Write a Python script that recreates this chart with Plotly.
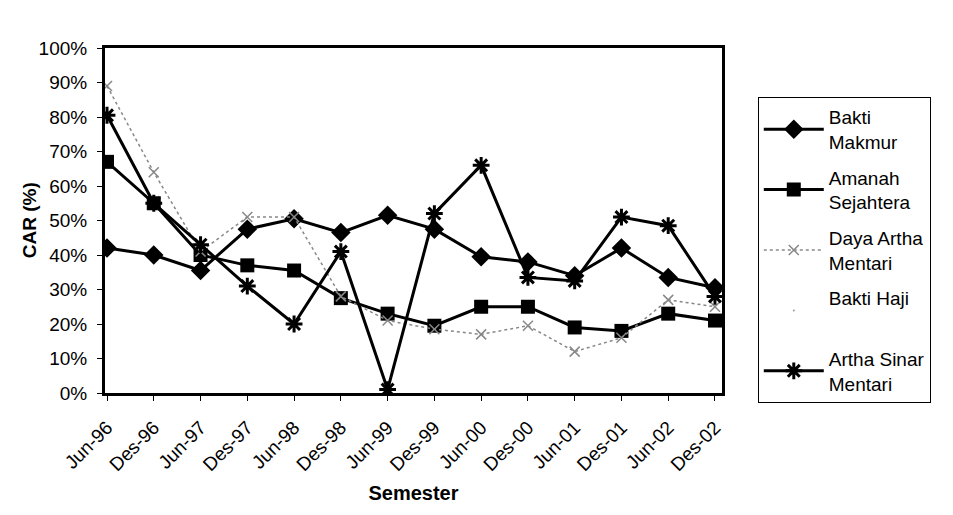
import plotly.graph_objects as go

semester = ["Jun-96", "Des-96", "Jun-97", "Des-97", "Jun-98", "Des-98", "Jun-99",
            "Des-99", "Jun-00", "Des-00", "Jun-01", "Des-01", "Jun-02", "Des-02"]

bakti_makmur = [42, 40, 35.5, 47.5, 50.5, 46.5, 51.5, 47.5, 39.5, 38, 34, 42, 33.5, 30.5]
amanah_sejahtera = [67, 55, 40, 37, 35.5, 27.5, 23, 19.5, 25, 25, 19, 18, 23, 21]
daya_artha_mentari = [89, 64, 41, 51, 51, 28, 21, 18.5, 17, 19.5, 12, 16, 27, 25]
bakti_haji = [None] * 14
artha_sinar_mentari = [80.5, 55, 43, 31, 20, 41, 1, 52, 66, 33.5, 32.5, 51, 48.5, 28]

y_ticks = [0, 10, 20, 30, 40, 50, 60, 70, 80, 90, 100]
y_labels = [f"{v}%" for v in y_ticks]

fig = go.Figure()
fig.add_trace(go.Scatter(x=semester, y=bakti_makmur, name="Bakti<br>Makmur", mode="lines+markers",
                         legendgroup="g1",
                         line=dict(color="black", width=3),
                         marker=dict(symbol="diamond", size=15, color="black")))
fig.add_trace(go.Scatter(x=semester, y=amanah_sejahtera, name="Amanah<br>Sejahtera", mode="lines+markers",
                         legendgroup="g2",
                         line=dict(color="black", width=3),
                         marker=dict(symbol="square", size=14, color="black")))
fig.add_trace(go.Scatter(x=semester, y=daya_artha_mentari, name="Daya Artha<br>Mentari", mode="lines+markers",
                         legendgroup="g3",
                         line=dict(color="#888888", width=1.5, dash="dot"),
                         marker=dict(symbol="x-thin-open", size=10, line=dict(color="#555555", width=1.5))))
fig.add_trace(go.Scatter(x=semester, y=bakti_haji, name="Bakti Haji<br> ", mode="lines+markers",
                         legendgroup="g4",
                         line=dict(color="rgba(0,0,0,0)", width=1),
                         marker=dict(symbol="circle", size=2, color="#999999")))
fig.add_trace(go.Scatter(x=semester, y=artha_sinar_mentari, name="Artha Sinar<br>Mentari", mode="lines+markers",
                         legendgroup="g5",
                         line=dict(color="black", width=3),
                         marker=dict(symbol="asterisk-open", size=14, line=dict(color="black", width=3))))

fig.add_annotation(text="<b>CAR (%)</b>", xref="paper", yref="paper",
                   x=-0.122, y=0.5, xanchor="center", yanchor="middle",
                   textangle=-90, showarrow=False, font=dict(size=19))

fig.update_layout(
    width=953, height=515,
    margin=dict(l=97, r=239, t=40, b=130, autoexpand=False),
    paper_bgcolor="white", plot_bgcolor="white",
    font=dict(family="Liberation Sans, Arial, sans-serif", size=19, color="black"),
    showlegend=True,
    legend=dict(x=1.058, y=0.858, xanchor="left", yanchor="top",
                bordercolor="black", borderwidth=1, tracegroupgap=8,
                font=dict(size=19), itemwidth=60),
    xaxis=dict(title=dict(text="<b>Semester</b>", font=dict(size=20), standoff=12),
               tickangle=-45, showline=True, linecolor="black", linewidth=3, mirror=True,
               ticks="outside", ticklen=5, tickcolor="black", showgrid=False, automargin=False,
               ticklabelstandoff=8,
               range=[-0.043, 13.15], tickfont=dict(size=19)),
    yaxis=dict(range=[0, 100], tickvals=y_ticks, ticktext=y_labels, automargin=False,
               showline=True, linecolor="black", linewidth=3, mirror=True,
               ticks="outside", ticklen=5, tickcolor="black", showgrid=False,
               ticklabelstandoff=6,
               zeroline=False, tickfont=dict(size=19)),
)

fig.write_html("out.html")
